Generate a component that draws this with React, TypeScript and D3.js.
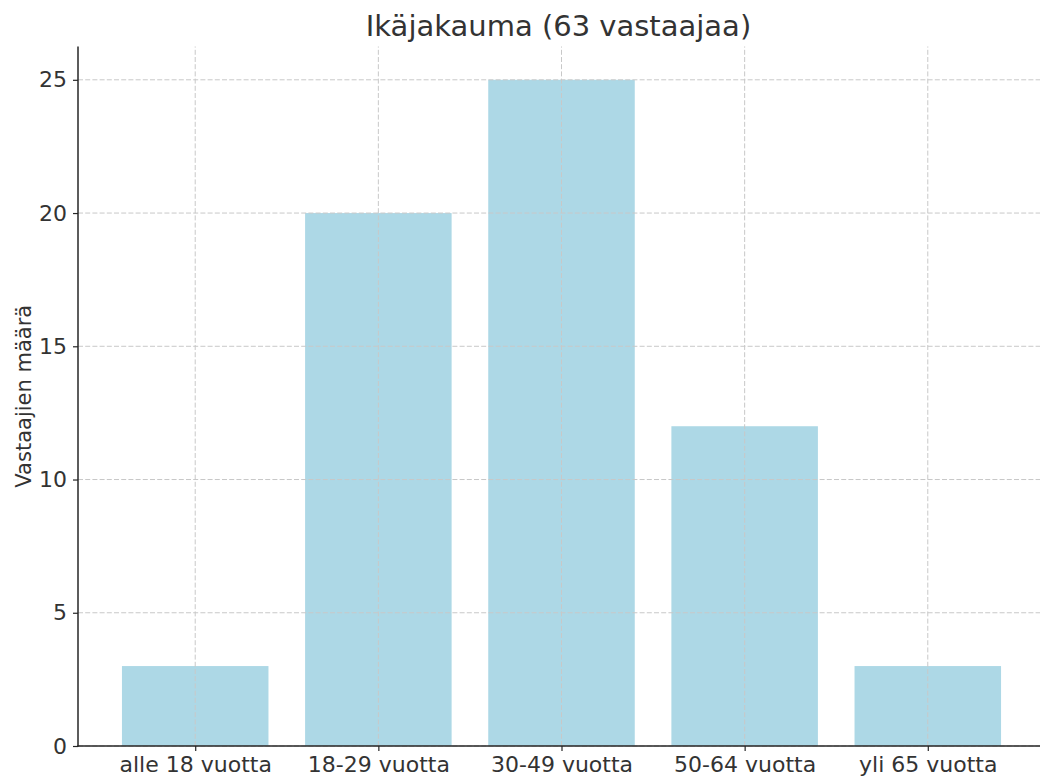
import { useEffect, useRef } from "react";
import * as d3 from "d3";

const width = 1040;
const height = 780;
const margin = { top: 46.5, right: -5, bottom: 34, left: 78 };

const categories = ["alle 18 vuotta", "18-29 vuotta", "30-49 vuotta", "50-64 vuotta", "yli 65 vuotta"];
const counts = [3, 20, 25, 12, 3];
const yTicks = [0, 5, 10, 15, 20, 25];

const title = "Ikäjakauma (63 vastaajaa)";
const yLabel = "Vastaajien määrä";

const font = "'DejaVu Sans', sans-serif";
const textColor = "#333";

const App = () => {
  const svgRef = useRef<SVGSVGElement | null>(null);

  useEffect(() => {
    if (!svgRef.current) return;
    const svg = d3.select(svgRef.current);
    svg.selectAll("*").remove();

    const x0 = margin.left;
    const x1 = width - margin.right;
    const y0 = height - margin.bottom;
    const y1 = margin.top;

    // matplotlib-like margins: bars span -0.4..4.4, plus 5%
    const xScale = d3.scaleLinear().domain([-0.64, categories.length - 1 + 0.64]).range([x0, x1]);
    const yScale = d3.scaleLinear().domain([0, 26.25]).range([y0, y1]);
    const barW = xScale(0.8) - xScale(0);

    // bars
    svg.append("g")
      .selectAll("rect")
      .data(counts)
      .enter()
      .append("rect")
      .attr("x", (_, i) => xScale(i) - barW / 2)
      .attr("y", d => yScale(d))
      .attr("width", barW)
      .attr("height", d => yScale(0) - yScale(d))
      .attr("fill", "#add8e6");

    // grid over bars
    const grid = svg.append("g").attr("stroke", "#c8c8c8").attr("stroke-width", 1).attr("stroke-dasharray", "5,2.2");
    grid.selectAll(".gy")
      .data(yTicks)
      .enter()
      .append("line")
      .attr("x1", x0).attr("x2", x1)
      .attr("y1", d => yScale(d)).attr("y2", d => yScale(d));
    grid.selectAll(".gx")
      .data(categories)
      .enter()
      .append("line")
      .attr("x1", (_, i) => xScale(i)).attr("x2", (_, i) => xScale(i))
      .attr("y1", y0).attr("y2", y1);

    // axes
    const yAxis = svg.append("g")
      .attr("transform", `translate(${x0},0)`)
      .call(d3.axisLeft(yScale).tickValues(yTicks).tickSize(5).tickPadding(6));
    const xAxis = svg.append("g")
      .attr("transform", `translate(0,${y0})`)
      .call(d3.axisBottom(xScale).tickValues(d3.range(categories.length)).tickFormat((_, i) => categories[i]).tickSize(5).tickPadding(5));

    [yAxis, xAxis].forEach(ax => {
      ax.attr("font-family", font).attr("font-size", 22);
      ax.selectAll(".tick line").attr("stroke", "#262626").attr("stroke-width", 1.2);
      ax.selectAll(".tick text").attr("fill", textColor);
    });
    svg.selectAll(".domain").remove();
    svg.append("line").attr("x1", x0).attr("x2", x0).attr("y1", y1).attr("y2", y0 + 0.75)
      .attr("stroke", "#262626").attr("stroke-width", 1.5);
    svg.append("line").attr("x1", x0 - 0.75).attr("x2", x1).attr("y1", y0).attr("y2", y0)
      .attr("stroke", "#262626").attr("stroke-width", 1.5);

    // title
    svg.append("text")
      .attr("x", (x0 + x1) / 2 - 3)
      .attr("y", 36)
      .attr("text-anchor", "middle")
      .attr("fill", textColor)
      .style("font-family", font)
      .style("font-size", "29px")
      .text(title);

    // y label
    svg.append("text")
      .attr("transform", `translate(31,${(y0 + y1) / 2}) rotate(-90)`)
      .attr("text-anchor", "middle")
      .attr("fill", textColor)
      .style("font-family", font)
      .style("font-size", "21px")
      .text(yLabel);
  }, []);

  return (
    <svg
      ref={svgRef}
      width={width}
      height={height}
      viewBox={`0 0 ${width} ${height}`}
      style={{ position: "absolute", left: 0, top: 0, background: "#fff" }}
    />
  );
};

export default App;
